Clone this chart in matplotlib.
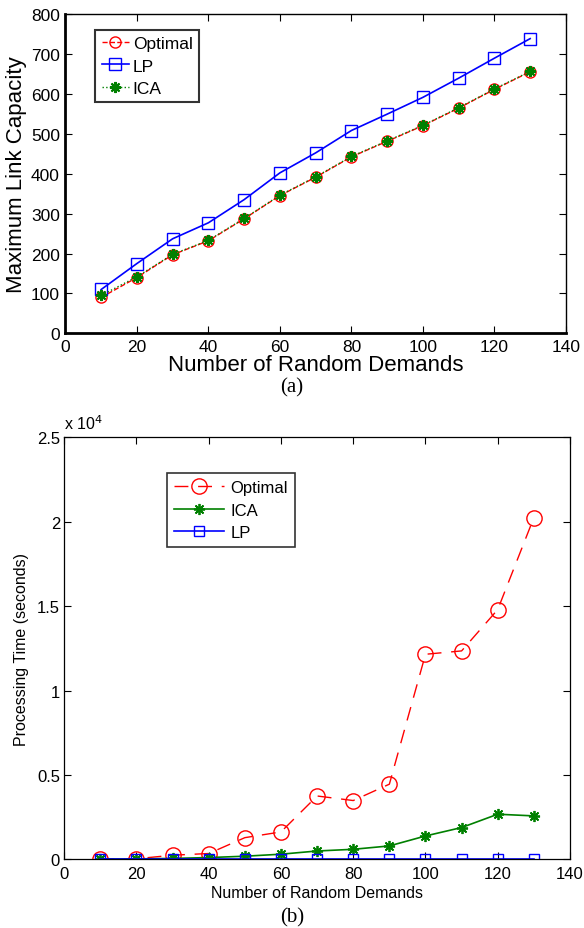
import matplotlib
matplotlib.use("Agg")
import matplotlib.pyplot as plt
from matplotlib.ticker import FuncFormatter

plt.rcParams['font.family'] = ['Liberation Sans', 'DejaVu Sans']

demands = [10, 20, 30, 40, 50, 60, 70, 80, 90, 100, 110, 120, 130]

# (a) Maximum link capacity
cap_optimal = [90, 140, 197, 232, 287, 345, 391, 442, 481, 520, 564, 611, 655]
cap_lp = [110, 175, 237, 277, 335, 402, 452, 508, 549, 591, 639, 689, 738]
cap_ica = [95, 142, 198, 233, 288, 346, 392, 443, 482, 521, 565, 612, 656]

# (b) Processing time (seconds)
time_optimal = [20, 30, 240, 340, 1280, 1620, 3750, 3480, 4450, 12150, 12350, 14800, 20250]
time_ica = [10, 20, 50, 100, 180, 300, 490, 590, 790, 1380, 1880, 2670, 2570]
time_lp = [5, 5, 5, 5, 5, 5, 5, 5, 5, 5, 5, 5, 5]

xticks = [0, 20, 40, 60, 80, 100, 120, 140]

fig = plt.figure(figsize=(5.84, 9.29), dpi=100)

# ---------- (a) ----------
ax1 = fig.add_axes([0.112, 0.640, 0.857, 0.344])
ax1.plot(demands, cap_optimal, color='red', linestyle='--', linewidth=1.0,
         marker='o', markersize=8, markerfacecolor='none', markeredgecolor='red',
         markeredgewidth=1.0, label='Optimal')
ax1.plot(demands, cap_lp, color='blue', linestyle='-', linewidth=1.2,
         marker='s', markersize=8, markerfacecolor='none', markeredgecolor='blue',
         markeredgewidth=1.0, label='LP')
ax1.plot(demands, cap_ica, color='green', linestyle=':', linewidth=1.0,
         marker=(8, 2, 0), markersize=8, markeredgecolor='green',
         markeredgewidth=1.5, label='ICA')
ax1.set_xlim(0, 140)
ax1.set_ylim(0, 800)
ax1.set_xticks(xticks)
ax1.set_yticks(range(0, 801, 100))
ax1.tick_params(direction='in', top=True, right=True, labelsize=12.5, length=5, pad=4)
for s in ax1.spines.values():
    s.set_linewidth(1.0)
ax1.spines['left'].set_linewidth(2.0)
ax1.spines['bottom'].set_linewidth(2.0)
ax1.set_xlabel('Number of Random Demands', fontsize=16, labelpad=0)
ax1.set_ylabel('Maximum Link Capacity', fontsize=16, labelpad=3)
leg1 = ax1.legend(loc='upper left', bbox_to_anchor=(0.06, 0.95), fontsize=12.5,
                  frameon=True, fancybox=False, edgecolor='black', handlelength=1.6,
                  handletextpad=0.2, borderpad=0.35, labelspacing=0.42, borderaxespad=0)
leg1.get_frame().set_linewidth(1.5)
fig.text(0.5, 0.5825, '(a)', ha='center', va='center', fontsize=15,
         family=['Liberation Serif', 'DejaVu Serif'])

# ---------- (b) ----------
ax2 = fig.add_axes([0.110, 0.074, 0.866, 0.454])
ax2.plot(demands, time_optimal, color='red', linestyle=(0, (10, 7)), linewidth=1.0,
         marker='o', markersize=11, markerfacecolor='none', markeredgecolor='red',
         markeredgewidth=1.0, label='Optimal')
ax2.plot(demands, time_ica, color='green', linestyle='-', linewidth=1.2,
         marker=(8, 2, 0), markersize=8, markeredgecolor='green',
         markeredgewidth=1.3, label='ICA')
ax2.plot(demands, time_lp, color='blue', linestyle='-', linewidth=1.2,
         marker='s', markersize=7, markerfacecolor='none', markeredgecolor='blue',
         markeredgewidth=1.0, label='LP')
ax2.set_xlim(0, 140)
ax2.set_ylim(0, 25000)
ax2.set_xticks(xticks)
ax2.set_yticks([0, 5000, 10000, 15000, 20000, 25000])
ax2.yaxis.set_major_formatter(FuncFormatter(lambda v, p: ('%g' % (v / 1e4))))
ax2.tick_params(direction='in', top=True, right=True, labelsize=12, length=5, pad=5)
ax2.tick_params(axis='y', pad=3)
for s in ax2.spines.values():
    s.set_linewidth(0.9)
ax2.set_xlabel('Number of Random Demands', fontsize=11.5, labelpad=3)
ax2.set_ylabel('Processing Time (seconds)', fontsize=11.5, labelpad=6)
ax2.text(0.0, 1.012, 'x 10$^{4}$', transform=ax2.transAxes, fontsize=11.5,
         ha='left', va='bottom')
leg2 = ax2.legend(loc='upper left', bbox_to_anchor=(0.204, 0.915), fontsize=12,
                  frameon=True, fancybox=False, edgecolor='black', handlelength=3.0,
                  handletextpad=0.4, borderpad=0.4, labelspacing=0.45, borderaxespad=0)
leg2.get_frame().set_linewidth(1.2)
fig.text(0.5, 0.012, '(b)', ha='center', va='center', fontsize=15,
         family=['Liberation Serif', 'DejaVu Serif'])

fig.savefig('out.png', dpi=100)
